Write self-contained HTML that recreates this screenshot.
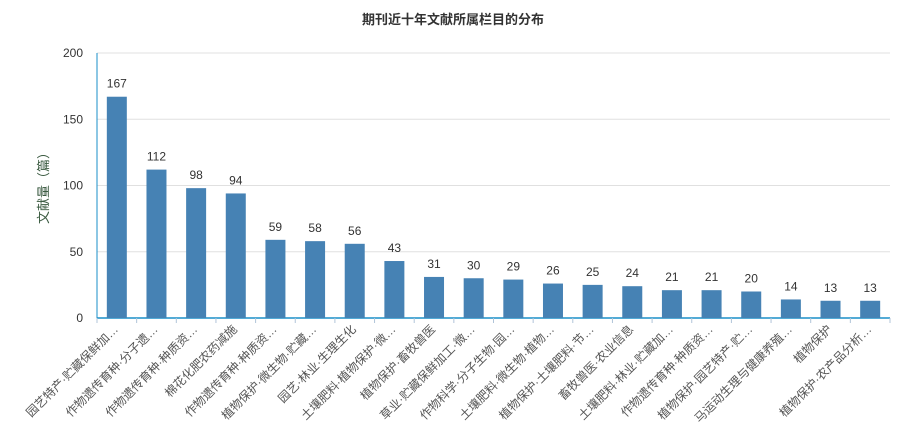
<!DOCTYPE html>
<html><head><meta charset="utf-8"><style>
body{margin:0;background:#fff;}
svg text{font-family:"Liberation Sans","Noto Sans CJK SC",sans-serif;}
</style></head><body>
<svg id="chart" width="908" height="443" xmlns="http://www.w3.org/2000/svg">
<text x="453" y="24" text-anchor="middle" font-size="13" font-weight="bold" fill="#333">期刊近十年文献所属栏目的分布</text>
<text transform="translate(48,185) rotate(-90)" text-anchor="middle" font-size="13" fill="#3a5a40">文献量（篇）</text>
<g id="grid"></g><g id="bars"></g><g id="xlabels"></g>
</svg>
<script>
const categories=["园艺特产·贮藏保鲜加…","作物遗传育种·分子遗…","作物遗传育种·种质资…","棉花化肥农药减施","作物遗传育种·种质资…","植物保护·微生物·贮藏…","园艺·林业·生理生化","土壤肥料·植物保护·微…","植物保护·畜牧兽医","草业·贮藏保鲜加工·微…","作物科学·分子生物·园…","土壤肥料·微生物·植物…","植物保护·土壤肥料·节…","畜牧兽医·农业信息","土壤肥料·林业·贮藏加…","作物遗传育种·种质资…","植物保护·园艺特产·贮…","马运动生理与健康养殖…","植物保护","植物保护·农产品分析…"];
categories.splice(15,1);
const values=[167,112,98,94,59,58,56,43,31,30,29,26,25,24,21,21,20,14,13,13];
values.splice(15,1);
const yTicks=[0,50,100,150,200];
</script>
<script>
(function(){
const NS="http://www.w3.org/2000/svg";
// restore: actual data is 20 bars? use original arrays as-is below
})();
</script>
<script>
const cats2=["园艺特产·贮藏保鲜加…","作物遗传育种·分子遗…","作物遗传育种·种质资…","棉花化肥农药减施","作物遗传育种·种质资…","植物保护·微生物·贮藏…","园艺·林业·生理生化","土壤肥料·植物保护·微…","植物保护·畜牧兽医","草业·贮藏保鲜加工·微…","作物科学·分子生物·园…","土壤肥料·微生物·植物…","植物保护·土壤肥料·节…","畜牧兽医·农业信息","土壤肥料·林业·贮藏加…","作物遗传育种·种质资…","植物保护·园艺特产·贮…","马运动生理与健康养殖…","植物保护","植物保护·农产品分析…"];
const vals2=[167,112,98,94,59,58,56,43,31,30,29,26,25,24,21,21,20,14,13,13];
(function(){
const NS="http://www.w3.org/2000/svg";
const x0=97,x1=890,yb=318,yt=53,ymax=200;
const n=cats2.length, bw=(x1-x0)/n;
const y=v=>yb-(v/ymax)*(yb-yt);
const xc=i=>x0+bw*(i+0.5);
const g=document.getElementById('grid'),b=document.getElementById('bars'),xl=document.getElementById('xlabels');
function mk(tag,attrs,parent){const e=document.createElementNS(NS,tag);for(const k in attrs)e.setAttribute(k,attrs[k]);parent.appendChild(e);return e;}
yTicks.forEach(t=>{
  const l=mk('line',{x1:x0,x2:x1,y1:y(t),y2:y(t),stroke:t===0?'none':'#e0e0e0'},g);
  
  
  const tx=mk('text',{x:x0-14,y:y(t)+4,'text-anchor':'end','font-size':12,fill:'#333'},g);
  tx.textContent=t;
  
  
});
const ya=mk('line',{x1:x0,x2:x0,y1:yt,y2:yb,stroke:'#1a8fc9'},g);


const xa=mk('line',{x1:x0,x2:x1,y1:yb,y2:yb,stroke:'#1a8fc9','stroke-width':1.5},g);


for(let i=0;i<=n;i++){
  const tk=mk('line',{x1:x0+bw*i,x2:x0+bw*i,y1:yb,y2:yb+5,stroke:'#b0c4d8'},g);
  
  
}
vals2.forEach((v,i)=>{
  const r=mk('rect',{x:xc(i)-10,y:y(v),width:20,height:yb-y(v),fill:'#4682b4'},b);
  
  
  const t=mk('text',{x:xc(i),y:y(v)-9,'text-anchor':'middle','font-size':12,fill:'#333'},b);
  t.textContent=v;
  
  
  const lb=mk('text',{transform:`translate(${xc(i)+2},${yb+12}) rotate(-45)`,'text-anchor':'end','font-size':12,fill:'#555'},xl);
  lb.textContent=cats2[i];
  
  
});
})();
</script>
</body></html>
